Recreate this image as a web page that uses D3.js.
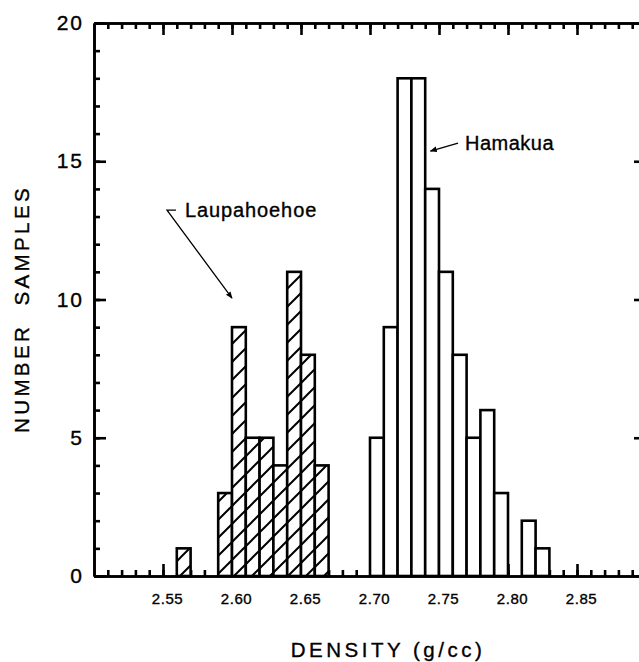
<!doctype html>
<html>
  <head>
    <style>
      body { margin: 0; background: white; }
      text { font-family: "Liberation Sans", Arial, sans-serif; fill: black; stroke: black; stroke-width: 0.35px; }
      .axis path, .axis line { stroke: black; stroke-width: 2.6px; }
      .axis text { font-family: "Liberation Sans", Arial, sans-serif; }
    </style>
    <script src="https://cdnjs.cloudflare.com/ajax/libs/d3/7.8.5/d3.min.js"></script>
  </head>
  <body>
    <div id="chart"></div>
    <script>
      var width = 639, height = 662;

      // histogram bins (lower edge, g/cc) and sample counts
      var binWidth = 0.01;
      var laupahoehoeBins   = [2.56, 2.59, 2.60, 2.61, 2.62, 2.63, 2.64, 2.65, 2.66];
      var laupahoehoeCounts = [1, 3, 9, 5, 5, 4, 11, 8, 4];
      var hamakuaBins   = [2.70, 2.71, 2.72, 2.73, 2.74, 2.75, 2.76, 2.77, 2.78, 2.79, 2.81, 2.82];
      var hamakuaCounts = [5, 9, 18, 18, 14, 11, 8, 5, 6, 3, 2, 1];

      // axis ticks
      var xMajorTicks  = [2.55, 2.60, 2.65, 2.70, 2.75, 2.80, 2.85];
      var xTickLabels  = ["2.55", "2.60", "2.65", "2.70", "2.75", "2.80", "2.85"];
      var yMajorTicks  = [0, 5, 10, 15, 20];

      var svg = d3.select("#chart").append("svg")
                  .attr("width", width)
                  .attr("height", height);

      var x = d3.scaleLinear().domain([2.50, 2.90]).range([94, 646]);
      var y = d3.scaleLinear().domain([0, 20]).range([576, 23]);

      var xMinor = d3.range(251, 290).map(function(d) { return d / 100; });
      var yMinor = d3.range(0, 21);

      // diagonal hatching for the Laupahoehoe bars
      var defs = svg.append("defs");
      var pat = defs.append("pattern")
                    .attr("id", "hatch")
                    .attr("patternUnits", "userSpaceOnUse")
                    .attr("width", 18)
                    .attr("height", 18);
      pat.append("rect").attr("width", 18).attr("height", 18).attr("fill", "white");
      pat.append("path")
         .attr("d", "M0,18 L18,0 M-4.5,4.5 L4.5,-4.5 M13.5,22.5 L22.5,13.5")
         .attr("stroke", "black")
         .attr("stroke-width", 2);

      defs.append("marker")
          .attr("id", "arrow")
          .attr("viewBox", "0 0 10 10")
          .attr("refX", 9).attr("refY", 5)
          .attr("markerWidth", 7).attr("markerHeight", 7)
          .attr("markerUnits", "userSpaceOnUse")
          .attr("orient", "auto")
        .append("path")
          .attr("d", "M0,1 L10,5 L0,9 Z")
          .attr("fill", "black");

      // frame: minor and major ticks on all four sides, all pointing inward
      function frame(axisFn, scale, minor, major, transform) {
        svg.append("g").attr("class", "axis").attr("transform", transform)
           .call(axisFn(scale).tickValues(minor).tickSize(-6).tickSizeOuter(0).tickFormat(""));
        return svg.append("g").attr("class", "axis").attr("transform", transform)
           .call(axisFn(scale).tickValues(major).tickSize(-12).tickSizeOuter(0));
      }

      var bottomAxis = frame(d3.axisBottom, x, xMinor, xMajorTicks, "translate(0," + y(0) + ")");
      bottomAxis.selectAll("text")
            .text(function(d, i) { return xTickLabels[i]; })
            .attr("x", 4)
            .attr("y", 17)
            .attr("font-size", 15)
            .attr("letter-spacing", 0.6)
            .attr("stroke", "black").attr("stroke-width", 0.3);

      var topAxis = frame(d3.axisTop, x, xMinor, xMajorTicks, "translate(0," + y(20) + ")");
      topAxis.selectAll("text").remove();

      var leftAxis = frame(d3.axisLeft, y, yMinor, yMajorTicks, "translate(" + x(2.50) + ",0)");
      leftAxis.selectAll("text")
          .attr("x", -10)
          .attr("font-size", 21)
          .attr("letter-spacing", 2)
          .attr("stroke", "black").attr("stroke-width", 0.3);

      var rightAxis = frame(d3.axisRight, y, yMinor, yMajorTicks, "translate(" + x(2.90) + ",0)");
      rightAxis.selectAll("text").remove();

      // histogram bars
      function drawBars(bins, counts, fill) {
        svg.append("g").selectAll("rect")
           .data(bins.map(function(b, i) { return { x0: b, n: counts[i] }; }))
           .enter().append("rect")
           .attr("x", function(d) { return x(d.x0); })
           .attr("y", function(d) { return y(d.n); })
           .attr("width", function(d) { return x(d.x0 + binWidth) - x(d.x0); })
           .attr("height", function(d) { return y(0) - y(d.n); })
           .attr("fill", fill)
           .attr("stroke", "black")
           .attr("stroke-width", 2.6);
      }
      drawBars(laupahoehoeBins, laupahoehoeCounts, "url(#hatch)");
      drawBars(hamakuaBins, hamakuaCounts, "white");

      // labels with leader arrows
      svg.append("path")
         .attr("d", "M" + x(2.5594) + "," + y(13.23) +
                    " L" + x(2.5529) + "," + y(13.23) +
                    " L" + x(2.6) + "," + y(10.05))
         .attr("fill", "none").attr("stroke", "black").attr("stroke-width", 1.3)
         .attr("marker-end", "url(#arrow)");
      svg.append("text")
         .attr("x", x(2.5659)).attr("y", y(12.98))
         .attr("font-size", 20).attr("letter-spacing", 0.9)
         .text("Laupahoehoe");

      svg.append("path")
         .attr("d", "M" + x(2.7638) + "," + y(15.66) + " L" + x(2.7438) + "," + y(15.37))
         .attr("fill", "none").attr("stroke", "black").attr("stroke-width", 1.3)
         .attr("marker-end", "url(#arrow)");
      svg.append("text")
         .attr("x", x(2.7688)).attr("y", y(15.4))
         .attr("font-size", 20).attr("letter-spacing", 0.5)
         .text("Hamakua");

      // axis titles
      svg.append("text")
         .attr("transform", "translate(28.5,309) rotate(-90)")
         .attr("text-anchor", "middle")
         .attr("font-size", 20.5)
         .attr("letter-spacing", 3.4)
         .attr("xml:space", "preserve")
         .text("NUMBER  SAMPLES");

      svg.append("text")
         .attr("x", 388).attr("y", 657)
         .attr("text-anchor", "middle")
         .attr("font-size", 20.5)
         .attr("letter-spacing", 3.5)
         .text("DENSITY (g/cc)");
    </script>
  </body>
</html>
